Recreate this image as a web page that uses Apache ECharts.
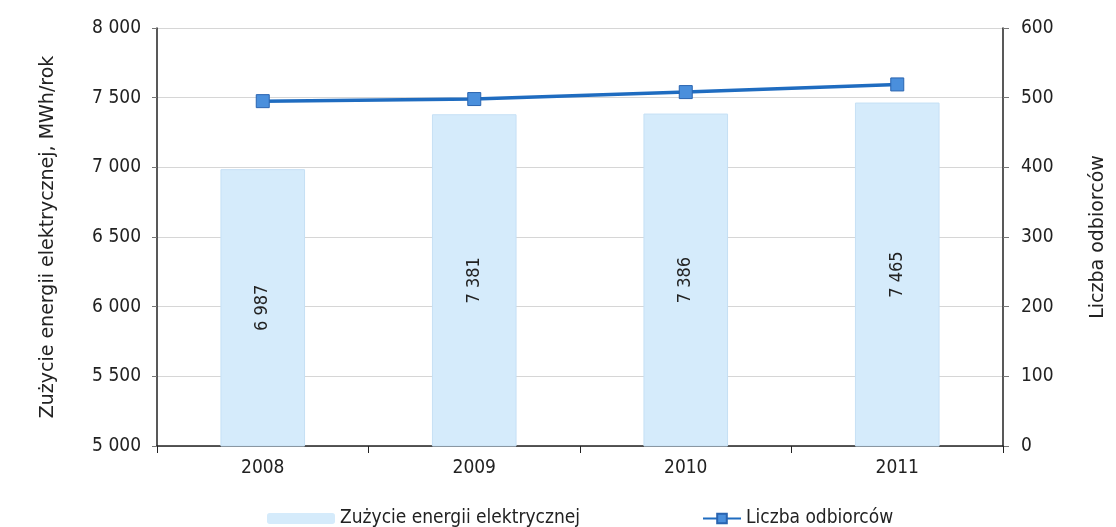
<!DOCTYPE html>
<html><head><meta charset="utf-8">
<script src="https://cdn.jsdelivr.net/npm/echarts@6/dist/echarts.min.js"></script>
<style>html,body{margin:0;padding:0;background:#fff}#c{width:1116px;height:527px}</style>
</head><body><div id="c"></div>
<script>
const years = ['2008', '2009', '2010', '2011'];
const energy = [6987, 7381, 7386, 7465];
const customers = [495, 498, 508, 519];
const leftTicks = [5000, 8000, 500];
const rightTicks = [0, 600, 100];

const FONT = '"DejaVu Sans Condensed","DejaVu Sans",sans-serif';
const TFONT = '"DejaVu Sans",sans-serif';
const fmt = v => String(v).replace(/\B(?=(\d{3})+(?!\d))/g, ' ');

const chart = echarts.init(document.getElementById('c'));
chart.setOption({
  animation: false,
  textStyle: { fontFamily: FONT, color: '#222' },
  grid: { left: 157, right: 112, top: 28, bottom: 81 },
  legend: [
    { data: ['Zużycie energii elektrycznej'], left: 262, top: 504, itemWidth: 68, itemHeight: 11,
      itemGap: 8, itemStyle: { borderWidth: 0 },
      textStyle: { fontFamily: FONT, fontSize: 19, color: '#222' } },
    { data: ['Liczba odbiorców'], left: 697, top: 504, itemWidth: 38, itemHeight: 12, itemGap: 6,
      textStyle: { fontFamily: FONT, fontSize: 19, color: '#222' } }
  ],
  xAxis: {
    type: 'category', data: years,
    axisLine: { lineStyle: { color: '#222', width: 1.5 } },
    axisTick: { show: true, length: 7, lineStyle: { color: '#222' } },
    axisLabel: { fontSize: 19, color: '#222', margin: 13, fontFamily: FONT }
  },
  yAxis: [
    { type: 'value', min: leftTicks[0], max: leftTicks[1], interval: leftTicks[2],
      name: 'Zużycie energii elektrycznej, MWh/rok', nameLocation: 'middle', nameGap: 99,
      nameTextStyle: { fontSize: 19, color: '#222', fontFamily: TFONT },
      axisLine: { show: true, lineStyle: { color: '#222', width: 1.5 } },
      axisTick: { show: true, length: 5, lineStyle: { color: '#777' } },
      axisLabel: { fontSize: 19, color: '#222', margin: 16, formatter: fmt, fontFamily: FONT },
      splitLine: { show: true, lineStyle: { color: '#d6d6d6' } } },
    { type: 'value', min: rightTicks[0], max: rightTicks[1], interval: rightTicks[2],
      name: 'Liczba odbiorców', nameLocation: 'middle', nameGap: 86, nameRotate: 90,
      nameTextStyle: { fontSize: 19, color: '#222', fontFamily: TFONT },
      axisLine: { show: true, lineStyle: { color: '#222', width: 1.5 } },
      axisTick: { show: true, length: 6, lineStyle: { color: '#777' } },
      axisLabel: { fontSize: 19, color: '#222', margin: 18, fontFamily: FONT },
      splitLine: { show: false } }
  ],
  series: [
    { name: 'Zużycie energii elektrycznej', type: 'bar', data: energy, barWidth: '40%',
      itemStyle: { color: '#d5ebfb', borderColor: '#c6e0f5', borderWidth: 1 },
      label: { show: true, position: 'inside', rotate: 90, fontSize: 18, color: '#222',
               fontFamily: FONT, formatter: p => fmt(p.value) } },
    { name: 'Liczba odbiorców', type: 'line', yAxisIndex: 1, data: customers,
      symbol: 'rect', symbolSize: 13,
      lineStyle: { color: '#1f6cc0', width: 3.5 },
      itemStyle: { color: '#4a8fdc', borderColor: '#2a64b0', borderWidth: 1 } }
  ]
});
</script></body></html>
